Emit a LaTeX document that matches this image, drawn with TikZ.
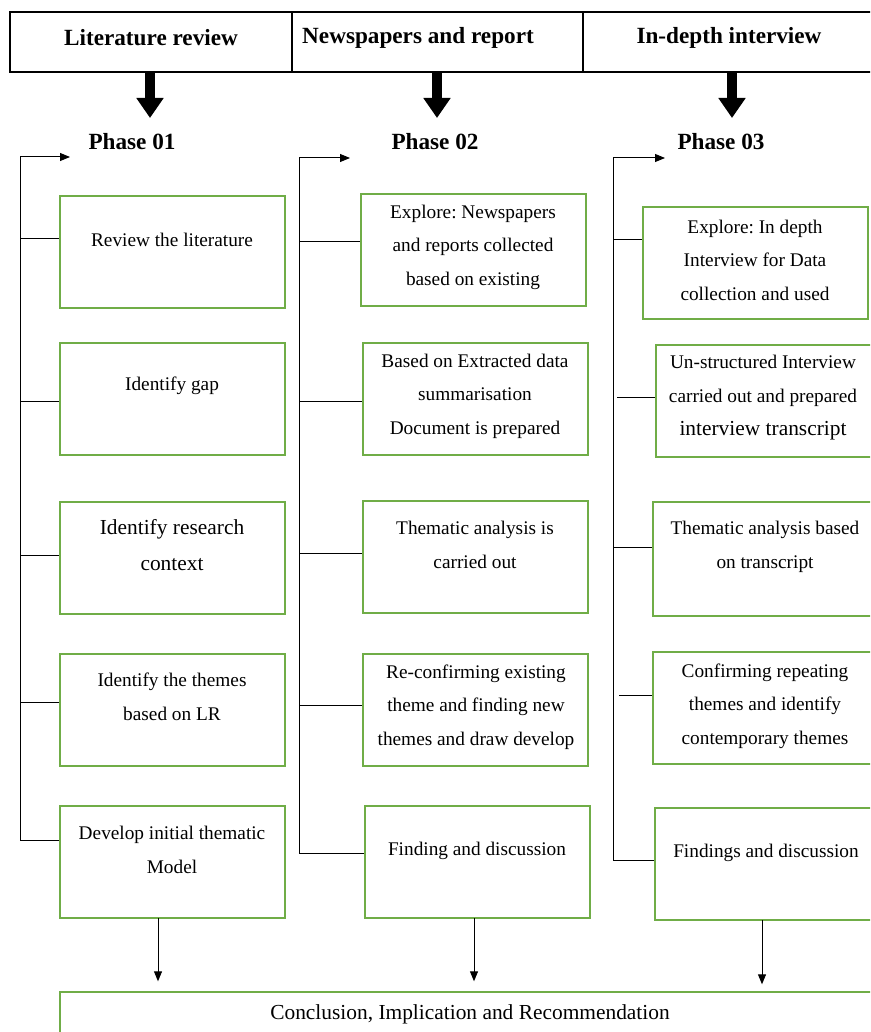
\documentclass[tikz,border=0pt]{standalone}
\usepackage{fontspec}
\setmainfont{Liberation Serif}
\usetikzlibrary{arrows.meta,calc}
\definecolor{gr}{RGB}{112,173,71}
\frenchspacing
\begin{document}
\begin{tikzpicture}[x=1pt,y=-1pt,
  hcell/.style={draw=black,line width=1.1pt,minimum height=60pt,inner sep=0pt},
  phase/.style={font=\fontsize{23.2}{26}\selectfont\bfseries,inner sep=0pt},
  gbox/.style={draw=gr,line width=1.8pt,minimum width=225pt,minimum height=112pt,inner sep=0pt},
  btxt/.style={align=center,inner sep=0pt,font=\fontsize{19.3}{33.5}\selectfont},
  bigtxt/.style={align=center,inner sep=0pt,font=\fontsize{21.4}{36}\selectfont},
  thick arrow/.style={line width=10pt,-{Triangle[width=26pt,length=20pt]}},
  thin arrow/.style={line width=1pt,-{Triangle[width=8pt,length=10pt]}},
  tick/.style={line width=1pt}]
\path[use as bounding box,clip] (0,0) rectangle (870,1032);

% header
\node[hcell,minimum width=282pt] (h1) at (151,42) {};
\node[hcell,minimum width=291pt] (h2) at (437.5,42) {};
\node[hcell,minimum width=297pt] (h3) at (731.5,42) {};
\node[phase] (ht1) at (151,38) {Literature review};
\node[phase] (ht2) at (418,38) {Newspapers and report};
\node[phase] (ht3) at (729,38) {In-depth interview};

% phases
\node[phase] (p1) at (132,142) {Phase 01};
\node[phase] (p2) at (435,142) {Phase 02};
\node[phase] (p3) at (721,142) {Phase 03};

\coordinate (a1) at (150,118);
\coordinate (a2) at (437,118);
\coordinate (a3) at (732,118);
\draw[thick arrow] (h1.south -| a1) -- (a1);
\draw[thick arrow] (h2.south -| a2) -- (a2);
\draw[thick arrow] (h3.south -| a3) -- (a3);

% column 1 boxes
\node[gbox] (b11) at (172.5,252) {};
\node[gbox] (b12) at (172.5,399) {};
\node[gbox] (b13) at (172.5,558) {};
\node[gbox] (b14) at (172.5,710) {};
\node[gbox] (b15) at (172.5,862) {};
\node[btxt] (t11) at (172,240) {Review the literature};
\node[btxt] (t12) at (172,386) {Identify gap};
\node[bigtxt] (t13) at (172,545) {Identify research\\context};
\node[btxt] (t14) at (172,697) {Identify the themes\\based on LR};
\node[btxt] (t15) at (172,850) {Develop initial thematic\\Model};

% column 2 boxes
\node[gbox] (b21) at (473.5,250) {};
\node[gbox] (b22) at (475.5,399) {};
\node[gbox] (b23) at (475.5,557) {};
\node[gbox] (b24) at (475.5,710) {};
\node[gbox] (b25) at (477.5,862) {};
\node[btxt] (t21) at (473,247) {Explore: Newspapers\\and reports collected\\based on existing};
\node[btxt] (t22) at (475,396) {Based on Extracted data\\summarisation\\Document is prepared};
\node[btxt] (t23) at (475,545) {Thematic analysis is\\carried out};
\node[btxt] (t24) at (476,707) {Re-confirming existing\\theme and finding new\\themes and draw develop};
\node[btxt] (t25) at (477,851) {Finding and discussion};

% column 3 boxes
\node[gbox] (b31) at (755.5,263) {};
\node[gbox] (b32) at (768.5,401) {};
\node[gbox,minimum height=114pt] (b33) at (765.5,559) {};
\node[gbox] (b34) at (765.5,708) {};
\node[gbox] (b35) at (767.5,864) {};
\node[btxt] (t31) at (755,260) {Explore: In depth\\Interview for Data\\collection and used};
\node[btxt] (t32) at (763,398) {Un-structured Interview\\carried out and prepared\\{\fontsize{21.4}{33.5}\selectfont interview transcript}};
\node[btxt] (t33) at (765,547) {Thematic analysis based\\on transcript};
\node[btxt] (t34) at (765,706) {Confirming repeating\\themes and identify\\contemporary themes};
\node[btxt] (t35) at (766,853) {Findings and discussion};

% brackets
\coordinate (v1) at (20,157);
\coordinate (v1e) at (20,840);
\coordinate (r1) at (70,157);
\draw[tick] (v1e) -- (v1);
\draw[thin arrow] (v1) -- (r1);
\draw[tick] (v1 |- 0,238) -- (b11.west |- 0,238);
\draw[tick] (v1 |- 0,401) -- (b12.west |- 0,401);
\draw[tick] (v1 |- 0,555) -- (b13.west |- 0,555);
\draw[tick] (v1 |- 0,702) -- (b14.west |- 0,702);
\draw[tick] (v1e) -- (b15.west |- v1e);

\coordinate (v2) at (299,158);
\coordinate (v2e) at (299,853);
\coordinate (r2) at (350,158);
\draw[tick] (v2e) -- (v2);
\draw[thin arrow] (v2) -- (r2);
\draw[tick] (v2 |- 0,241) -- (b21.west |- 0,241);
\draw[tick] (v2 |- 0,401) -- (b22.west |- 0,401);
\draw[tick] (v2 |- 0,553) -- (b23.west |- 0,553);
\draw[tick] (v2 |- 0,705) -- (b24.west |- 0,705);
\draw[tick] (v2e) -- (b25.west |- v2e);

\coordinate (v3) at (613,158);
\coordinate (v3e) at (613,860);
\coordinate (r3) at (665,158);
\draw[tick] (v3e) -- (v3);
\draw[thin arrow] (v3) -- (r3);
\draw[tick] (v3 |- 0,239) -- (b31.west |- 0,239);
\draw[tick] (617,397) -- (b32.west |- 0,397);
\draw[tick] (v3 |- 0,547) -- (b33.west |- 0,547);
\draw[tick] (619,695) -- (b34.west |- 0,695);
\draw[tick] (v3e) -- (b35.west |- v3e);

% conclusion
\node[draw=gr,line width=1.4pt,minimum width=820pt,minimum height=60pt,inner sep=0pt] (conc) at (470,1022) {};
\node[align=center,inner sep=0pt,font=\fontsize{21.4}{24}\selectfont] (tc) at (470,1014) {Conclusion, Implication and Recommendation};

\coordinate (d1) at (158,918);
\coordinate (d2) at (474,918);
\coordinate (d3) at (762,920);
\draw[thin arrow,shorten >=10pt] (d1) -- (d1 |- conc.north);
\draw[thin arrow,shorten >=10pt] (d2) -- (d2 |- conc.north);
\draw[thin arrow,shorten >=7pt] (d3) -- (d3 |- conc.north);
\end{tikzpicture}
\end{document}
